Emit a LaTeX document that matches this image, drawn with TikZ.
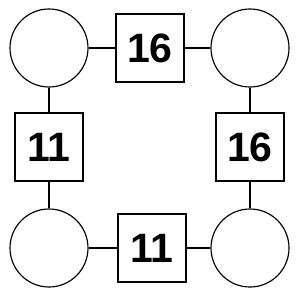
\documentclass[tikz,border=0pt]{standalone}
\usepackage{fontspec}
\setmainfont{Liberation Sans}
\usepackage{tikz}
\tikzset{
  spot/.style={draw, circle, minimum size=2.34cm, inner sep=0pt},
  weight/.style={draw, rectangle, minimum size=2.04cm, inner sep=0pt,
    font=\fontsize{35}{40}\selectfont\bfseries},
}

\begin{document}
\begin{tikzpicture}[x=0.03cm, y=-0.03cm, line width=1pt]
  \useasboundingbox (0,0) rectangle (300,300);

  % ---------- corners ----------
  \node[spot] (nw) at (49,48) {};
  \node[spot] (ne) at (250,48) {};
  \node[spot] (sw) at (49,248) {};
  \node[spot] (se) at (250,248) {};

  % ---------- edge weights ----------
  \node[weight] (top)   at (150,48)  {16};
  \node[weight] (left)  at (49,147)  {11};
  \node[weight] (right) at (250,147) {16};
  \node[weight] (bot)   at (152,248) {11};

  % ---------- links ----------
  \draw (nw) -- (top) -- (ne);
  \draw (nw) -- (left) -- (sw);
  \draw (ne) -- (right) -- (se);
  \draw (sw) -- (bot) -- (se);
\end{tikzpicture}
\end{document}
